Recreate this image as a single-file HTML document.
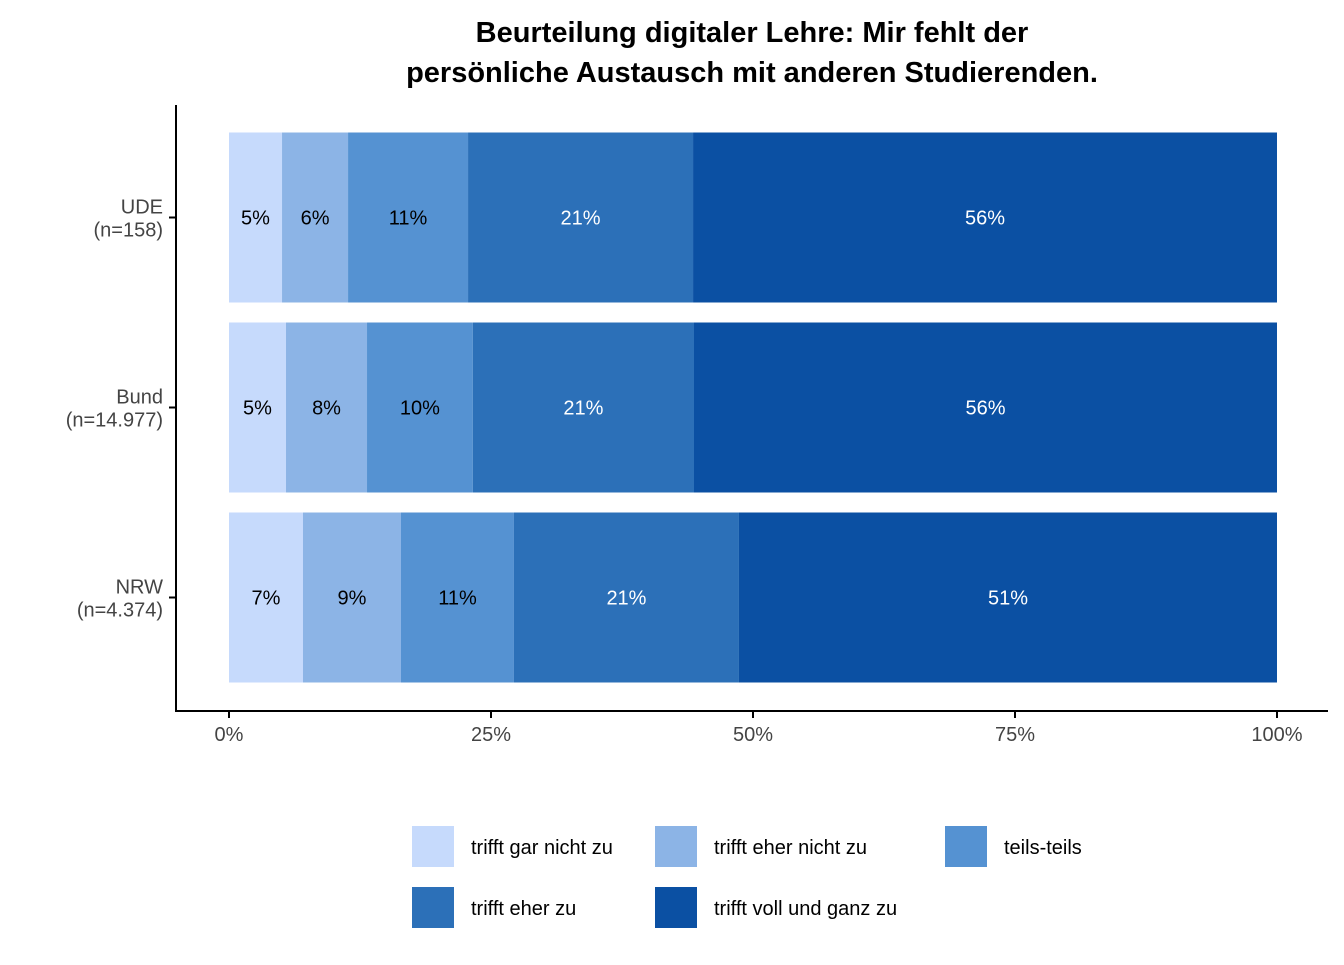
<!DOCTYPE html>
<html><head><meta charset="utf-8"><style>
body{margin:0;background:#fff;font-family:"Liberation Sans",Arial,sans-serif}
</style></head><body>
<svg id="chart" width="1344" height="960" xmlns="http://www.w3.org/2000/svg" font-family="Liberation Sans, Arial, sans-serif">
<text x="752" y="42" text-anchor="middle" font-size="29" font-weight="bold">Beurteilung digitaler Lehre: Mir fehlt der</text>
<text x="752" y="82" text-anchor="middle" font-size="29" font-weight="bold">persönliche Austausch mit anderen Studierenden.</text>
<g id="bars"></g>
<line x1="176" y1="105" x2="176" y2="712" stroke="#000" stroke-width="2"/>
<line x1="175" y1="711" x2="1328" y2="711" stroke="#000" stroke-width="2"/>
<g id="axes"></g>
<g id="legend"></g>
</svg>
<script>
const categories = ["UDE\n(n=158)", "Bund\n(n=14.977)", "NRW\n(n=4.374)"];
const seriesNames = ["trifft gar nicht zu","trifft eher nicht zu","teils-teils","trifft eher zu","trifft voll und ganz zu"];
const s1 = [5.06, 5.44, 7.06];
const s2 = [6.3, 7.73, 9.35];
const s3 = [11.45, 10.1, 10.78];
const s4 = [21.47, 21.1, 21.47];
const s5 = [55.72, 55.63, 51.34];
const xTicks = [0, 25, 50, 75, 100];
const colors = ["#c6dafc","#8cb4e6","#5592d2","#2c70b8","#0b50a3"];
const textColors = ["#000","#000","#000","#fff","#fff"];
const series = [s1,s2,s3,s4,s5];
const NS = "http://www.w3.org/2000/svg";
const x = v => 229 + v * 10.48;
const yc = i => 217.5 + i * 190;
const bh = 170;
function mk(tag, attrs, parent, txt){const e=document.createElementNS(NS,tag);for(const k in attrs)e.setAttribute(k,attrs[k]);if(txt!==undefined)e.textContent=txt;parent.appendChild(e);return e;}
const gb = document.getElementById('bars');
categories.forEach((c,i)=>{
  const total = series.reduce((a,s)=>a+s[i],0);
  let cum=0;
  series.forEach((s,k)=>{
    const v = s[i]/total*100;
    const r = mk('rect',{x:x(cum),y:yc(i)-bh/2,width:x(cum+v)-x(cum),height:bh,fill:colors[k]},gb);
    
    
    const t = mk('text',{x:x(cum+v/2),y:yc(i)+7,'text-anchor':'middle','font-size':20,fill:textColors[k]},gb,Math.round(s[i])+'%');
    
    
    cum+=v;
  });
});
const ga = document.getElementById('axes');
categories.forEach((c,i)=>{
  const lines=c.split('\n');
  mk('line',{x1:169,x2:176,y1:yc(i),y2:yc(i),stroke:'#000','stroke-width':2},ga);
  lines.forEach((l,j)=>{
    const t=mk('text',{x:163,y:yc(i)-4+j*23,'text-anchor':'end','font-size':20,fill:'#444'},ga,l);
    
    
  });
});
xTicks.forEach(v=>{
  mk('line',{x1:x(v),x2:x(v),y1:711,y2:718,stroke:'#000','stroke-width':2},ga);
  const t=mk('text',{x:x(v),y:741,'text-anchor':'middle','font-size':20,fill:'#444'},ga,v+'%');
  
  
});
const gl = document.getElementById('legend');
const lpos=[[412,826],[655,826],[945,826],[412,887],[655,887]];
seriesNames.forEach((n,k)=>{
  const [lx,ly]=lpos[k];
  const r=mk('rect',{x:lx,y:ly,width:42,height:41,fill:colors[k]},gl);
  
  
  const t=mk('text',{x:lx+59,y:ly+28,'font-size':20,fill:'#000'},gl,n);
  
  
});
</script>
</body></html>
